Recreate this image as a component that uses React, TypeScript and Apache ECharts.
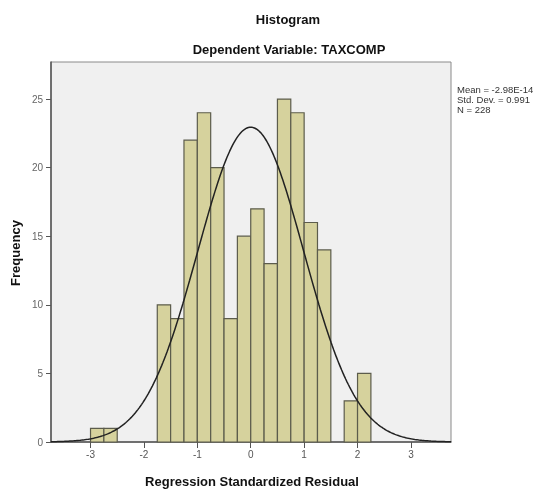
import React, { useEffect, useRef } from "react";
import * as echarts from "echarts";

const binStarts = [-3, -2.75, -1.75, -1.5, -1.25, -1, -0.75, -0.5, -0.25, 0, 0.25, 0.5, 0.75, 1, 1.25, 1.75, 2];
const frequencies = [1, 1, 10, 9, 22, 24, 20, 9, 15, 17, 13, 25, 24, 16, 14, 3, 5];
const BIN_WIDTH = 0.25;
const MEAN = -2.98e-14;
const STD_DEV = 0.991;
const N = 228;
const xTicks = [-3, -2, -1, 0, 1, 2, 3];
const statsLines = ["Mean = -2.98E-14", "Std. Dev. = 0.991", "N = 228"];

const X_MIN = -3.74;
const X_MAX = 3.75;

const FONT = "'Liberation Sans', Arial, sans-serif";

export default function App() {
  const ref = useRef<HTMLDivElement>(null);
  useEffect(() => {
    if (!ref.current) return;
    const chart = echarts.init(ref.current, null, { renderer: "svg" });
    const barData = binStarts.map((s, i) => [s, s + BIN_WIDTH, frequencies[i]]);
    const curve: number[][] = [];
    const steps = 300;
    for (let i = 0; i <= steps; i++) {
      const x = X_MIN + ((X_MAX - X_MIN) * i) / steps;
      const z = (x - MEAN) / STD_DEV;
      const y = (N * BIN_WIDTH) / (STD_DEV * Math.sqrt(2 * Math.PI)) * Math.exp(-0.5 * z * z);
      curve.push([x, y]);
    }
    chart.setOption({
      animation: false,
      textStyle: { fontFamily: FONT },
      grid: {
        left: 51,
        right: 90,
        top: 62,
        bottom: 49,
        show: true,
        backgroundColor: "#f0f0f0",
        borderColor: "#8a8a8a",
        borderWidth: 1,
      },
      xAxis: {
        type: "value",
        min: X_MIN,
        max: X_MAX,
        axisLine: { show: true, onZero: false, lineStyle: { color: "#555", width: 1.5 } },
        axisTick: { show: true, customValues: xTicks, length: 6, lineStyle: { color: "#555" } },
        axisLabel: {
          customValues: xTicks,
          color: "#555",
          fontSize: 10,
          margin: 7,
          fontFamily: FONT,
        },
        splitLine: { show: false },
      },
      yAxis: {
        type: "value",
        min: 0,
        max: 27.7,
        interval: 5,
        axisLine: { show: true, onZero: false, lineStyle: { color: "#555", width: 1.5 } },
        axisTick: { show: true, length: 5, lineStyle: { color: "#555" } },
        axisLabel: {
          color: "#666",
          fontSize: 10,
          margin: 8,
          fontFamily: FONT,
          showMaxLabel: false,
        },
        splitLine: { show: false },
      },
      graphic: [
        {
          type: "text",
          x: 288,
          y: 19,
          style: {
            text: "Histogram",
            font: `bold 13px ${FONT}`,
            fill: "#111",
            textAlign: "center",
            textVerticalAlign: "middle",
          },
        },
        {
          type: "text",
          x: 289,
          y: 49,
          style: {
            text: "Dependent Variable: TAXCOMP",
            font: `bold 13px ${FONT}`,
            fill: "#111",
            textAlign: "center",
            textVerticalAlign: "middle",
          },
        },
        {
          type: "text",
          x: 252,
          y: 481,
          style: {
            text: "Regression Standardized Residual",
            font: `bold 13px ${FONT}`,
            fill: "#111",
            textAlign: "center",
            textVerticalAlign: "middle",
          },
        },
        {
          type: "text",
          x: 15,
          y: 253,
          rotation: Math.PI / 2,
          style: {
            text: "Frequency",
            font: `bold 13px ${FONT}`,
            fill: "#111",
            textAlign: "center",
            textVerticalAlign: "middle",
          },
        },
        ...statsLines.map((t, i) => ({
          type: "text",
          x: 457,
          y: 89 + i * 10,
          style: {
            text: t,
            font: `9.5px ${FONT}`,
            fill: "#333",
            textAlign: "left",
            textVerticalAlign: "middle",
          },
        })),
      ],
      series: [
        {
          type: "custom",
          data: barData,
          renderItem: (params: any, api: any) => {
            const p0 = api.coord([api.value(0), api.value(2)]);
            const p1 = api.coord([api.value(1), 0]);
            return {
              type: "rect",
              shape: { x: p0[0], y: p0[1], width: p1[0] - p0[0], height: p1[1] - p0[1] },
              style: { fill: "#d6d29d", stroke: "#5c5c4c", lineWidth: 1.2 },
            };
          },
          z: 2,
        },
        {
          type: "line",
          data: curve,
          showSymbol: false,
          smooth: false,
          lineStyle: { color: "#222", width: 1.5 },
          z: 3,
        },
      ],
    });
    return () => chart.dispose();
  }, []);
  return (
    <div
      ref={ref}
      style={{ position: "fixed", left: 0, top: 0, width: 541, height: 491 }}
    />
  );
}
